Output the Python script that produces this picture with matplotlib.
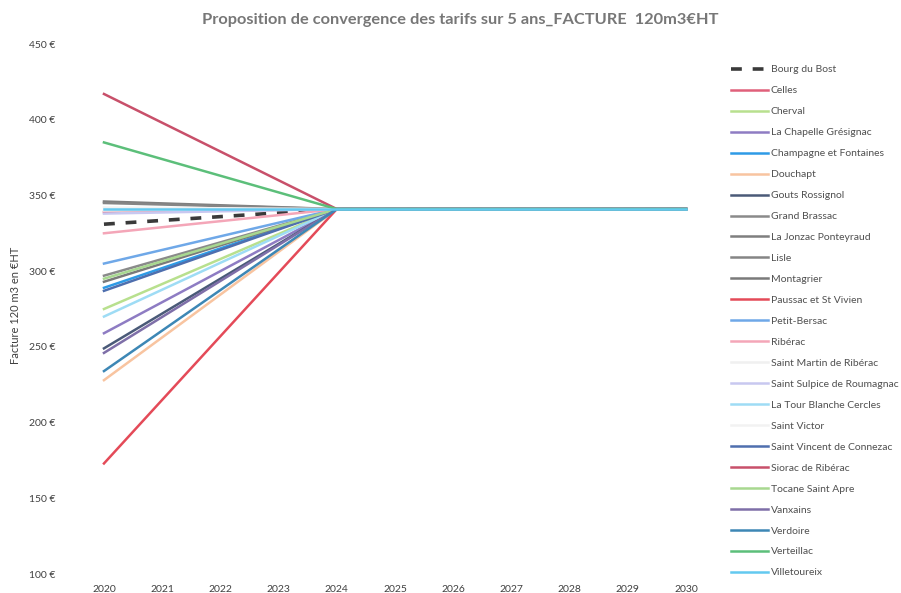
import matplotlib
matplotlib.use("Agg")
import matplotlib.pyplot as plt

plt.rcParams['font.family'] = ['Lato', 'DejaVu Sans']

years_start = 2020
years_flat = [2024, 2025, 2026, 2027, 2028, 2029, 2030]
x_ticks = list(range(2020, 2031))

communes = [
    "Bourg du Bost", "Celles", "Cherval", "La Chapelle Grésignac",
    "Champagne et Fontaines", "Douchapt", "Gouts Rossignol", "Grand Brassac",
    "La Jonzac Ponteyraud", "Lisle", "Montagrier", "Paussac et St Vivien",
    "Petit-Bersac", "Ribérac", "Saint Martin de Ribérac",
    "Saint Sulpice de Roumagnac", "La Tour Blanche Cercles", "Saint Victor",
    "Saint Vincent de Connezac", "Siorac de Ribérac", "Tocane Saint Apre",
    "Vanxains", "Verdoire", "Verteillac", "Villetoureix",
]
# tarif 2020 (€ HT for 120 m3)
start_2020 = [331, 339, 275, 259, 289, 228, 249, 297, 346, 345, 293, 173,
              305, 325, 340, 338, 270, 342, 287, 417, 295, 246, 234, 385, 341]
# converged tarif from 2024 to 2030
target = [341] * len(communes)

colors = ["#3a3a3a", "#e0607a", "#b8e08e", "#8e7cc3", "#2e9be6", "#f8c4a0",
          "#4a5a78", "#8a8a8a", "#7f7f7f", "#858585", "#7a7a7a", "#e44a58",
          "#6fa8e8", "#f4a6b8", "#f0f0f0", "#c8c8f0", "#9edcf5", "#f2f2f2",
          "#4f6fae", "#c8506a", "#a8d890", "#7e6fa8", "#3d87b5", "#5cbf7a",
          "#63c9f0"]

fig = plt.figure(figsize=(9.01, 5.93), dpi=100)
ax = fig.add_axes([90/901, 1-574/593, 610/901, 530/593])

for name, v0, vt, c in zip(communes, start_2020, target, colors):
    xs = [years_start] + years_flat
    ys = [v0] + [vt] * len(years_flat)
    if name == "Bourg du Bost":
        ax.plot(xs, ys, color=c, lw=2.6, ls=(0, (3, 3)), label=name)
    else:
        ax.plot(xs, ys, color=c, lw=1.8, label=name)

ax.set_xlim(2019.76, 2030.24)
ax.set_ylim(100, 450)
ax.set_xticks(x_ticks)
ax.set_xticklabels([str(y) for y in x_ticks], fontsize=7.5, color="#404040")
yt = list(range(100, 451, 50))
ax.set_yticks(yt)
ax.set_yticklabels([f"{v} €" for v in yt], fontsize=7.5, color="#404040")
ax.tick_params(length=0, pad=25, axis='y')
ax.tick_params(length=0, pad=8, axis='x')
for s in ax.spines.values():
    s.set_visible(False)

fig.text(16/901, 1-305/593, "Facture 120 m3 en €HT", rotation=90,
         ha='center', va='center', fontsize=8, color="#404040")
fig.text(460/901, 1-20/593,
         "Proposition de convergence des tarifs sur 5 ans_FACTURE  120m3€HT",
         ha='center', va='center', fontsize=11.8, fontweight='bold',
         color="#777777")

leg = fig.legend(loc='upper left', bbox_to_anchor=(727/901, 1-61/593),
                 frameon=False, fontsize=7.5, handlelength=3.5,
                 handletextpad=0.3, labelspacing=1.12, borderaxespad=0)
for t in leg.get_texts():
    t.set_color("#505050")

fig.savefig("out.png", dpi=100)
